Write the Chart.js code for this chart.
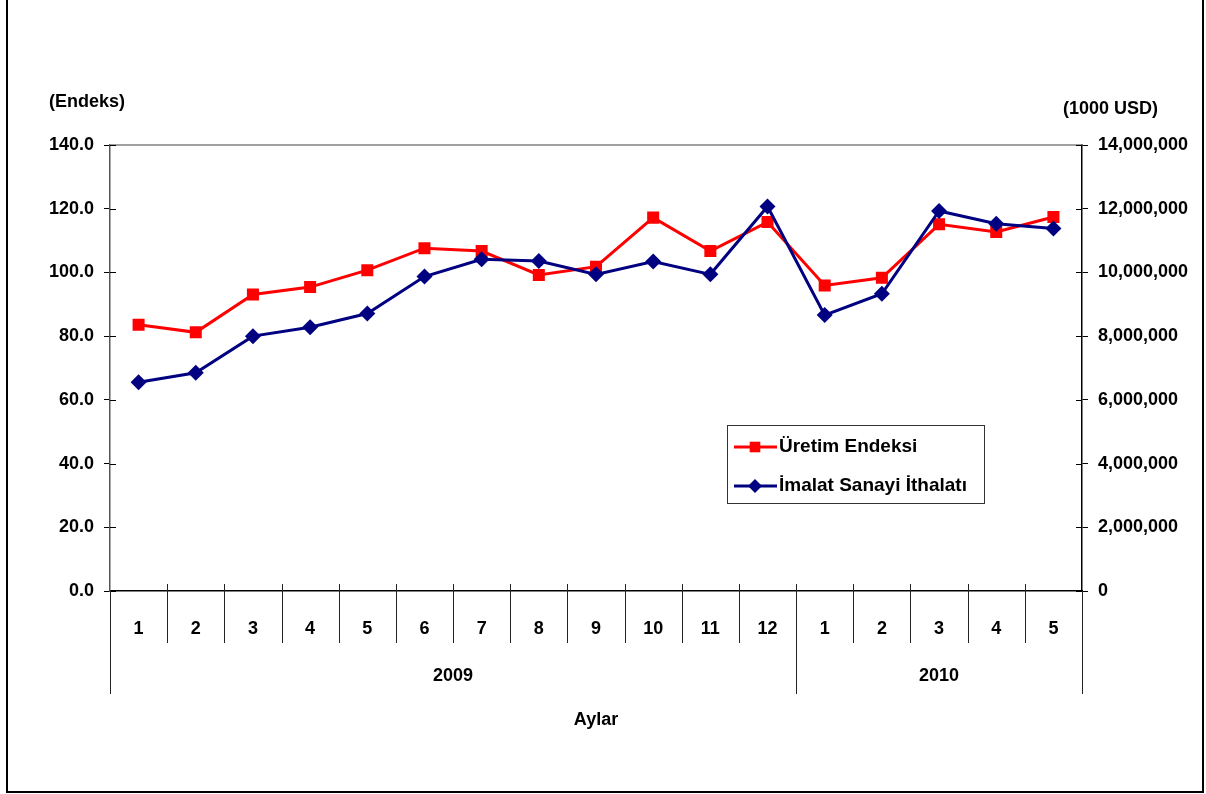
<!DOCTYPE html>
<html>
<head>
<meta charset="utf-8">
<script src="https://cdn.jsdelivr.net/npm/chart.js@4.4.1/dist/chart.umd.min.js"></script>
<style>
  body { margin: 0; background: #fff; }
  #frame { position: absolute; left: 6px; top: -10px; width: 1198px; height: 803px; border: 2px solid #000; box-sizing: border-box; }
  #wrap { position: absolute; left: 0; top: 0; width: 1206px; height: 794px; }
</style>
</head>
<body>
<div id="frame"></div>
<div id="wrap"><canvas id="myChart" width="1206" height="794"></canvas></div>
<script>
// Months (x categories) and the year row under them
const months = ["1", "2", "3", "4", "5", "6", "7", "8", "9", "10", "11", "12", "1", "2", "3", "4", "5"];
const yearLabels = ["2009", "2010"];
const yearSpans = [12, 5];

// Üretim Endeksi (left axis) and İmalat Sanayi İthalatı in 1000 USD (right axis)
const uretim = [83.6, 81.2, 93.1, 95.4, 100.7, 107.6, 106.7, 99.2, 101.8, 117.2, 106.7, 115.8, 95.9, 98.3, 115.1, 112.7, 117.4];
const ithalat = [6550000, 6850000, 8000000, 8280000, 8710000, 9870000, 10410000, 10360000, 9940000, 10340000, 9940000, 12070000, 8660000, 9330000, 11930000, 11530000, 11380000];

const leftTicks = [0, 20, 40, 60, 80, 100, 120, 140];
const rightTicks = [0, 2000000, 4000000, 6000000, 8000000, 10000000, 12000000, 14000000];

const FONT = "'Liberation Sans', Arial, sans-serif";
Chart.defaults.font.family = FONT;
Chart.defaults.font.weight = "bold";
Chart.defaults.color = "#000";

function line(ctx, x1, y1, x2, y2) {
  ctx.beginPath();
  ctx.moveTo(x1, y1);
  ctx.lineTo(x2, y2);
  ctx.stroke();
}

// extra drawing: plot frame, inner ticks, month/year dividers, titles, legend
const extras = {
  id: "extras",
  afterDraw(chart) {
    const ctx = chart.ctx;
    const area = chart.chartArea;
    const x = chart.scales.x;
    const y = chart.scales.y;
    const y2 = chart.scales.y2;
    ctx.save();

    ctx.strokeStyle = "#808080";
    ctx.lineWidth = 1.5;
    line(ctx, area.left, area.top, area.right, area.top);

    ctx.strokeStyle = "#000";
    ctx.lineWidth = 1;
    y.ticks.forEach((t) => {
      const py = Math.round(y.getPixelForValue(t.value)) + 0.5;
      line(ctx, area.left, py, area.left + 6, py);
    });
    y2.ticks.forEach((t) => {
      const py = Math.round(y2.getPixelForValue(t.value)) + 0.5;
      line(ctx, area.right - 6, py, area.right, py);
    });

    // month dividers
    const w = x.getPixelForValue(1) - x.getPixelForValue(0);
    ctx.strokeStyle = "#222";
    for (let i = 1; i < months.length; i++) {
      const px = Math.round(x.getPixelForValue(i) - w / 2) + 0.5;
      line(ctx, px, area.bottom - 7, px, area.bottom + 52);
    }

    // year row
    ctx.font = "bold 18px " + FONT;
    ctx.textAlign = "center";
    ctx.textBaseline = "middle";
    ctx.fillStyle = "#000";
    const edges = [0];
    yearSpans.forEach((n) => edges.push(edges[edges.length - 1] + n));
    edges.forEach((e) => {
      const px = Math.round(x.getPixelForValue(e) - w / 2) + 0.5;
      line(ctx, px, area.bottom, px, area.bottom + 103);
    });
    yearLabels.forEach((lab, i) => {
      const a = x.getPixelForValue(edges[i]) - w / 2;
      const b = x.getPixelForValue(edges[i + 1]) - w / 2;
      ctx.fillText(lab, (a + b) / 2, area.bottom + 85);
    });

    ctx.fillText("Aylar", (area.left + area.right) / 2, area.bottom + 129);

    ctx.textAlign = "left";
    ctx.fillText("(Endeks)", 49, 102);
    ctx.fillText("(1000 USD)", 1063, 109);

    // legend
    const lx = 727.5, ly = 425.5, lw = 257, lh = 78;
    ctx.strokeStyle = "#333";
    ctx.lineWidth = 1;
    ctx.strokeRect(lx, ly, lw, lh);
    chart.data.datasets.forEach((ds, i) => {
      const cy = 447 + i * 39;
      ctx.strokeStyle = ds.borderColor;
      ctx.lineWidth = 3;
      line(ctx, 734, cy, 777, cy);
      ctx.fillStyle = ds.pointBackgroundColor;
      Chart.helpers.drawPoint(ctx, { pointStyle: ds.pointStyle, radius: ds.pointRadius - 1, borderWidth: 0 }, 755, cy);
      ctx.fillStyle = "#000";
      ctx.font = "bold 19px " + FONT;
      ctx.fillText(ds.label, 779, cy);
    });

    ctx.restore();
  },
};

const ctx = document.getElementById("myChart").getContext("2d");
const myChart = new Chart(ctx, {
  type: "line",
  data: {
    labels: months,
    datasets: [
      {
        label: "Üretim Endeksi",
        data: uretim,
        yAxisID: "y",
        borderColor: "#ff0000",
        backgroundColor: "#ff0000",
        pointBackgroundColor: "#ff0000",
        pointBorderColor: "#ff0000",
        borderWidth: 3,
        pointStyle: "rect",
        pointRadius: 8.5,
        pointBorderWidth: 0,
        tension: 0,
        order: 2,
      },
      {
        label: "İmalat Sanayi İthalatı",
        data: ithalat,
        yAxisID: "y2",
        borderColor: "#000080",
        backgroundColor: "#000080",
        pointBackgroundColor: "#000080",
        pointBorderColor: "#000080",
        borderWidth: 3,
        pointStyle: "rectRot",
        pointRadius: 8,
        pointBorderWidth: 0,
        tension: 0,
        order: 1,
      },
    ],
  },
  options: {
    responsive: false,
    animation: false,
    layout: { padding: { top: 145, left: 0, right: 0, bottom: 0 } },
    plugins: { legend: { display: false }, tooltip: { enabled: false } },
    scales: {
      x: {
        type: "category",
        offset: true,
        grid: { display: false, drawTicks: false },
        border: { display: true, color: "#000", width: 1.5 },
        ticks: { font: { size: 18, weight: "bold" }, padding: 27, maxRotation: 0, autoSkip: false },
        afterFit: (s) => { s.height = 794 - 591; },
      },
      y: {
        position: "left",
        min: 0,
        max: 140,
        afterBuildTicks: (s) => { s.ticks = leftTicks.map((v) => ({ value: v })); },
        grid: { drawOnChartArea: false, drawTicks: true, tickLength: 6, color: "#000" },
        border: { display: true, color: "#555", width: 1.5 },
        ticks: { font: { size: 18, weight: "bold" }, padding: 10, callback: (v) => v.toFixed(1) },
        afterFit: (s) => { s.width = 110; },
      },
      y2: {
        position: "right",
        min: 0,
        max: 14000000,
        afterBuildTicks: (s) => { s.ticks = rightTicks.map((v) => ({ value: v })); },
        grid: { drawOnChartArea: false, drawTicks: true, tickLength: 6, color: "#000" },
        border: { display: true, color: "#000", width: 1.5 },
        ticks: { font: { size: 18, weight: "bold" }, padding: 10, callback: (v) => v.toLocaleString("en-US") },
        afterFit: (s) => { s.width = 1206 - 1082; },
      },
    },
  },
  plugins: [extras],
});
</script>
</body>
</html>
